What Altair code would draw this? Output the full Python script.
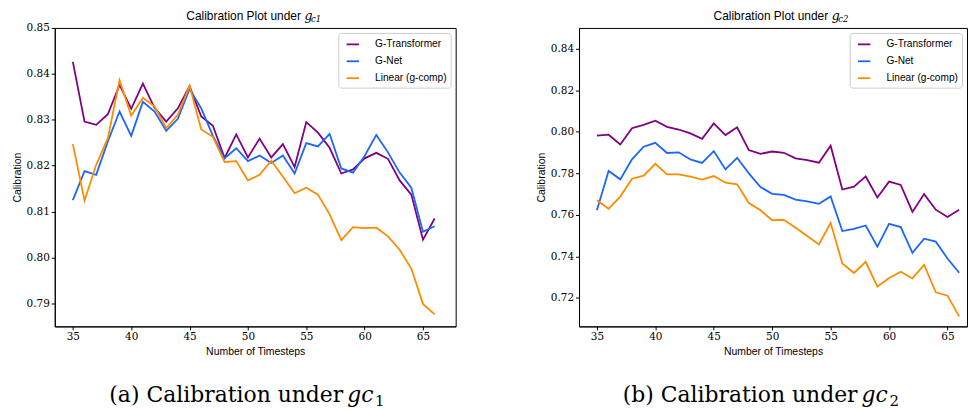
import altair as alt
import pandas as pd

STEPS = [35, 36, 37, 38, 39, 40, 41, 42, 43, 44, 45, 46, 47, 48, 49, 50,
         51, 52, 53, 54, 55, 56, 57, 58, 59, 60, 61, 62, 63, 64, 65, 66]
SERIES = ["G-Transformer", "G-Net", "Linear (g-comp)"]
COLORS = ["#800080", "#1a66ff", "#ff8c00"]

# panel (a): g_c1
GT_C1 = [0.8426, 0.8296, 0.8289, 0.8312, 0.8376, 0.8324, 0.8379, 0.8326, 0.8296, 0.8325,
         0.8373, 0.8307, 0.8287, 0.8217, 0.8268, 0.8218, 0.8259, 0.8218, 0.8247, 0.8197,
         0.8295, 0.8272, 0.8239, 0.8183, 0.8192, 0.8216, 0.8228, 0.8215, 0.8168, 0.8137,
         0.8039, 0.8085]
GNET_C1 = [0.8125, 0.8188, 0.8180, 0.8253, 0.8318, 0.8265, 0.8339, 0.8318, 0.8276, 0.8302,
           0.8367, 0.8325, 0.8265, 0.8216, 0.8238, 0.8210, 0.8222, 0.8206, 0.8222, 0.8183,
           0.8249, 0.8242, 0.8269, 0.8194, 0.8185, 0.8221, 0.8267, 0.8229, 0.8185, 0.8152,
           0.8056, 0.8068]
LIN_C1 = [0.8247, 0.8124, 0.8202, 0.8260, 0.8386, 0.8309, 0.8348, 0.8329, 0.8282, 0.8311,
          0.8374, 0.8279, 0.8263, 0.8208, 0.8210, 0.8168, 0.8180, 0.8211, 0.8176, 0.8140,
          0.8152, 0.8137, 0.8094, 0.8038, 0.8066, 0.8064, 0.8065, 0.8046, 0.8017, 0.7976,
          0.7899, 0.7876]

# panel (b): g_c2
GT_C2 = [0.7982, 0.7986, 0.7939, 0.8017, 0.8033, 0.8053, 0.8024, 0.8011, 0.7992, 0.7966,
         0.8040, 0.7984, 0.8022, 0.7912, 0.7894, 0.7905, 0.7899, 0.7872, 0.7864, 0.7851,
         0.7933, 0.7722, 0.7736, 0.7785, 0.7684, 0.7760, 0.7744, 0.7614, 0.7700, 0.7625,
         0.7590, 0.7625]
GNET_C2 = [0.7622, 0.7811, 0.7771, 0.7867, 0.7928, 0.7947, 0.7898, 0.7901, 0.7867, 0.7850,
           0.7907, 0.7819, 0.7875, 0.7800, 0.7734, 0.7701, 0.7696, 0.7673, 0.7665, 0.7653,
           0.7689, 0.7522, 0.7533, 0.7549, 0.7447, 0.7557, 0.7541, 0.7417, 0.7485, 0.7471,
           0.7390, 0.7321]
LIN_C2 = [0.7670, 0.7629, 0.7688, 0.7774, 0.7789, 0.7846, 0.7795, 0.7795, 0.7784, 0.7770,
          0.7787, 0.7755, 0.7747, 0.7657, 0.7622, 0.7574, 0.7576, 0.7538, 0.7498, 0.7458,
          0.7562, 0.7366, 0.7320, 0.7374, 0.7254, 0.7296, 0.7326, 0.7294, 0.7359, 0.7227,
          0.7211, 0.7111]

X_TICKS = [35, 40, 45, 50, 55, 60, 65]
Y_TICKS_C1 = [0.79, 0.80, 0.81, 0.82, 0.83, 0.84, 0.85]
Y_TICKS_C2 = [0.72, 0.74, 0.76, 0.78, 0.80, 0.82, 0.84]

SANS = "Liberation Sans"
SERIF = "DejaVu Serif"


def to_long(gt, gn, lin):
    rows = []
    for name, vals in zip(SERIES, [gt, gn, lin]):
        for s, v in zip(STEPS, vals):
            rows.append({"step": s, "value": v, "series": name})
    return pd.DataFrame(rows)


def text_layer(txt, x, y, size, font, style="normal", align="left"):
    return alt.Chart(pd.DataFrame({"t": [txt]})).mark_text(
        font=font, fontSize=size, fontStyle=style, align=align,
        baseline="alphabetic", color="black"
    ).encode(x=alt.value(x), y=alt.value(y), text="t:N")


def panel(df, ydom, yticks, xdom, width, sub, title_x, cap_main, cap_x, cap_sub):
    lines = alt.Chart(df).mark_line(strokeWidth=1.8, clip=True).encode(
        x=alt.X("step:Q",
                scale=alt.Scale(domain=xdom, nice=False, zero=False),
                axis=alt.Axis(values=X_TICKS, format="d", title="Number of Timesteps")),
        y=alt.Y("value:Q",
                scale=alt.Scale(domain=ydom, nice=False, zero=False),
                axis=alt.Axis(values=yticks, format=".2f", title="Calibration")),
        color=alt.Color("series:N",
                        scale=alt.Scale(domain=SERIES, range=COLORS),
                        sort=SERIES,
                        legend=alt.Legend(
                            title=None, orient="top-right", offset=5,
                            symbolType="M-0.5,0H1.5", symbolSize=156,
                            symbolStrokeWidth=1.8,
                            labelFont=SANS, labelFontSize=10.2, labelColor="black",
                            labelOffset=18, rowPadding=4, padding=4,
                            strokeColor="#cccccc", fillColor="rgba(255,255,255,0.85)",
                            cornerRadius=3)),
    )
    layers = [
        lines,
        text_layer("Calibration Plot under", title_x, -8, 12, SANS, align="right"),
        text_layer("g", title_x + 3.5, -8, 12.5, SERIF, style="italic"),
        text_layer(sub, title_x + 10, -5.5, 8.5, SERIF, style="italic"),
        text_layer(cap_main, cap_x, 376, 22, SERIF, align="right"),
        text_layer("gc", cap_x + 4, 376, 22, SERIF, style="italic"),
        text_layer(cap_sub, cap_x + 32, 380, 15, SERIF),
    ]
    return alt.layer(*layers).properties(width=width, height=300)


left = panel(to_long(GT_C1, GNET_C1, LIN_C1), [0.785, 0.85], Y_TICKS_C1,
             [33.45, 67.8], 403, "c1", 247.5, "(a) Calibration under", 290, "1")
right = panel(to_long(GT_C2, GNET_C2, LIN_C2), [0.7063, 0.85], Y_TICKS_C2,
              [33.47, 66.67], 390, "c2", 250.5, "(b) Calibration under", 280, "2")

chart = alt.hconcat(left, right, spacing=79).resolve_scale(
    x="independent", y="independent"
).resolve_legend(color="independent").properties(
    padding={"left": 3, "top": 0, "right": 0, "bottom": 0},
    background="white",
).configure_view(
    stroke="black", strokeWidth=1
).configure_axis(
    grid=False, domainColor="black", domainWidth=1, tickColor="black", tickWidth=1,
    tickSize=3.5, labelPadding=2, labelFont=SERIF, labelFontSize=10.5, labelColor="black",
    titleFont=SANS, titleFontSize=10.5, titleFontWeight="normal", titleColor="black",
).configure_axisY(titlePadding=4).configure_axisX(titlePadding=4)

chart.save("out.html", embed_options={"renderer": "svg", "actions": False})
